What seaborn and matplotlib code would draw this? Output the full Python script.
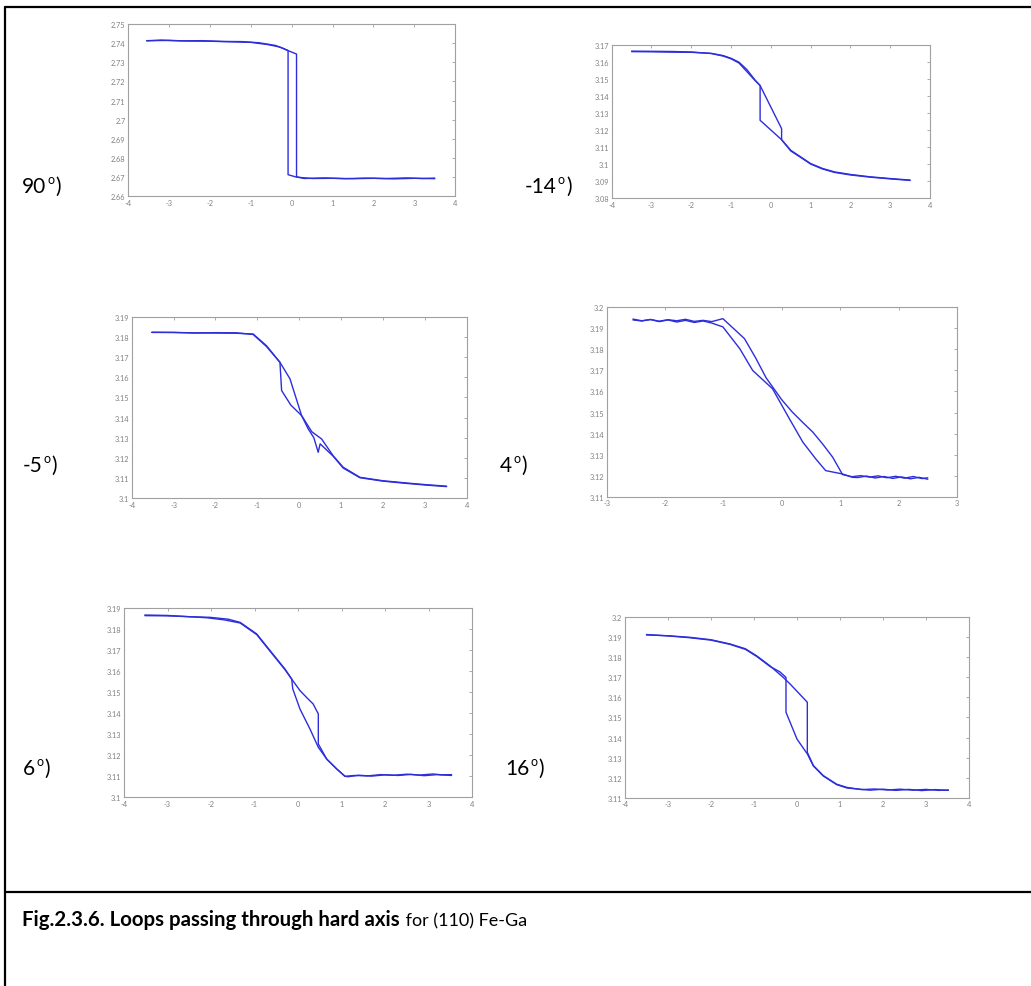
import matplotlib
matplotlib.use("Agg")
import matplotlib.pyplot as plt
from matplotlib.lines import Line2D
from matplotlib.ticker import FuncFormatter
import seaborn as sns
import pandas as pd

# ---------------- data ----------------
# Panel 90 deg
p1_b1_x = [-3.55, -3.0, -2.5, -2.0, -1.5, -1.0, -0.6, -0.3, -0.09, 0.117, 0.117, 0.3, 0.8, 1.3, 1.8, 2.3, 2.8, 3.2, 3.5]
p1_b1_y = [2.7413, 2.7414, 2.7411, 2.7410, 2.7407, 2.7404, 2.7393, 2.7380, 2.7361, 2.7343, 2.6702, 2.6693, 2.6696, 2.6692, 2.6695, 2.6693, 2.6696, 2.6693, 2.6695]
p1_b2_x = [3.5, 3.0, 2.5, 2.0, 1.5, 1.0, 0.5, 0.117, -0.09, -0.09, -0.2, -0.4, -0.8, -1.2, -1.7, -2.2, -2.7, -3.2, -3.55]
p1_b2_y = [2.6692, 2.6694, 2.6691, 2.6694, 2.6692, 2.6694, 2.6693, 2.6700, 2.6713, 2.7361, 2.7372, 2.7388, 2.7402, 2.7408, 2.7409, 2.7413, 2.7412, 2.7416, 2.7412]

# Panel -14 deg
p2_b1_x = [-3.5, -3.0, -2.5, -2.0, -1.5, -1.2, -1.0, -0.8, -0.6, -0.4, -0.27, 0.27, 0.27, 0.5, 0.75, 1.0, 1.3, 1.6, 2.0, 2.5, 3.0, 3.5]
p2_b1_y = [3.1661, 3.1660, 3.1658, 3.1657, 3.1651, 3.1638, 3.1622, 3.1599, 3.1555, 3.1495, 3.1462, 3.1209, 3.1144, 3.1082, 3.1043, 3.1004, 3.0975, 3.0955, 3.0940, 3.0926, 3.0916, 3.0907]
p2_b2_x = [3.5, 3.0, 2.5, 2.0, 1.6, 1.3, 1.0, 0.75, 0.5, 0.27, -0.27, -0.27, -0.4, -0.6, -0.8, -1.0, -1.2, -1.5, -2.0, -2.5, -3.0, -3.5]
p2_b2_y = [3.0905, 3.0914, 3.0924, 3.0937, 3.0952, 3.0972, 3.1001, 3.1040, 3.1078, 3.1144, 3.1258, 3.1462, 3.1492, 3.1543, 3.1594, 3.1619, 3.1635, 3.1650, 3.1659, 3.1662, 3.1663, 3.1664]

# Panel -5 deg
p3_b1_x = [-3.52, -3.0, -2.5, -2.0, -1.5, -1.1, -0.78, -0.46, -0.22, 0.057, 0.3, 0.535, 0.81, 1.05, 1.45, 2.0, 2.56, 3.0, 3.52]
p3_b1_y = [3.1823, 3.1822, 3.1820, 3.1819, 3.1818, 3.1814, 3.1756, 3.1674, 3.1592, 3.1410, 3.1330, 3.1294, 3.1211, 3.1154, 3.1104, 3.1087, 3.1076, 3.1068, 3.1060]
p3_b2_x = [3.52, 3.0, 2.5, 2.0, 1.45, 1.05, 0.81, 0.5, 0.454, 0.35, 0.215, 0.057, -0.2, -0.42, -0.46, -0.78, -1.1, -1.5, -2.0, -2.5, -3.0, -3.52]
p3_b2_y = [3.1058, 3.1066, 3.1075, 3.1085, 3.1102, 3.1150, 3.1209, 3.1270, 3.1228, 3.1300, 3.1344, 3.1410, 3.1462, 3.1534, 3.1674, 3.1752, 3.1812, 3.1820, 3.1821, 3.1819, 3.1822, 3.1822]

# Panel 4 deg
p4_b1_x = [-2.55, -2.4, -2.25, -2.1, -1.95, -1.8, -1.65, -1.5, -1.35, -1.2, -1.01, -0.85, -0.64, -0.45, -0.27, 0.0, 0.18, 0.35, 0.53, 0.7, 0.87, 1.04, 1.2, 1.35, 1.5, 1.65, 1.8, 1.95, 2.1, 2.25, 2.4, 2.5]
p4_b1_y = [3.1940, 3.1935, 3.1942, 3.1934, 3.1941, 3.1936, 3.1943, 3.1933, 3.1938, 3.1932, 3.1946, 3.1905, 3.1851, 3.1760, 3.1665, 3.1560, 3.1502, 3.1455, 3.1407, 3.1350, 3.1288, 3.1205, 3.1195, 3.1200, 3.1193, 3.1199, 3.1190, 3.1197, 3.1188, 3.1196, 3.1186, 3.1190]
p4_b2_x = [2.5, 2.35, 2.2, 2.05, 1.9, 1.75, 1.6, 1.45, 1.3, 1.21, 1.04, 0.75, 0.58, 0.36, 0.13, -0.16, -0.5, -0.72, -1.01, -1.2, -1.35, -1.5, -1.65, -1.8, -1.95, -2.1, -2.25, -2.4, -2.55]
p4_b2_y = [3.1183, 3.1192, 3.1185, 3.1194, 3.1187, 3.1196, 3.1189, 3.1198, 3.1191, 3.1192, 3.1208, 3.1224, 3.1280, 3.1359, 3.1470, 3.1613, 3.1700, 3.1803, 3.1907, 3.1925, 3.1935, 3.1928, 3.1938, 3.1930, 3.1940, 3.1932, 3.1942, 3.1936, 3.1944]

# Panel 6 deg
p5_b1_x = [-3.52, -3.0, -2.5, -2.02, -1.6, -1.33, -0.95, -0.64, -0.30, -0.145, 0.046, 0.2, 0.35, 0.467, 0.467, 0.66, 0.89, 1.08, 1.3, 1.6, 1.9, 2.2, 2.5, 2.8, 3.1, 3.3, 3.53]
p5_b1_y = [3.1865, 3.1864, 3.1860, 3.1857, 3.1848, 3.1833, 3.1778, 3.1698, 3.1611, 3.1563, 3.1508, 3.1475, 3.1444, 3.1397, 3.1254, 3.1182, 3.1135, 3.1100, 3.1104, 3.1102, 3.1108, 3.1105, 3.1110, 3.1106, 3.1111, 3.1107, 3.1108]
p5_b2_x = [3.53, 3.2, 2.9, 2.6, 2.3, 2.0, 1.7, 1.4, 1.15, 1.08, 0.89, 0.66, 0.467, 0.276, 0.046, -0.12, -0.145, -0.30, -0.64, -0.95, -1.33, -1.7, -2.1, -2.5, -3.0, -3.52]
p5_b2_y = [3.1104, 3.1108, 3.1103, 3.1109, 3.1104, 3.1107, 3.1101, 3.1105, 3.1098, 3.1100, 3.1135, 3.1182, 3.1238, 3.1325, 3.1420, 3.1516, 3.1563, 3.1608, 3.1695, 3.1775, 3.1830, 3.1845, 3.1855, 3.1860, 3.1866, 3.1868]

# Panel 16 deg
p6_b1_x = [-3.5, -3.0, -2.49, -2.0, -1.56, -1.2, -0.94, -0.63, -0.32, -0.16, 0.24, 0.24, 0.38, 0.61, 0.92, 1.16, 1.5, 1.8, 2.1, 2.4, 2.7, 3.0, 3.3, 3.52]
p6_b1_y = [3.1912, 3.1908, 3.1900, 3.1888, 3.1867, 3.1843, 3.1808, 3.1758, 3.1700, 3.1667, 3.1576, 3.1326, 3.1260, 3.1210, 3.1167, 3.1151, 3.1140, 3.1143, 3.1138, 3.1142, 3.1137, 3.1141, 3.1136, 3.1138]
p6_b2_x = [3.52, 3.2, 2.9, 2.6, 2.3, 2.0, 1.7, 1.4, 1.16, 0.92, 0.61, 0.38, 0.24, 0.0, -0.256, -0.256, -0.4, -0.63, -0.94, -1.2, -1.56, -2.0, -2.49, -3.0, -3.5]
p6_b2_y = [3.1136, 3.1140, 3.1135, 3.1141, 3.1136, 3.1142, 3.1137, 3.1143, 3.1148, 3.1165, 3.1208, 3.1258, 3.1318, 3.1392, 3.1526, 3.1700, 3.1728, 3.1755, 3.1805, 3.1840, 3.1865, 3.1886, 3.1898, 3.1907, 3.1914]

angle_labels = ["90", "-14", "-5", "4", "6", "16"]
p1_yticks = [2.66, 2.67, 2.68, 2.69, 2.70, 2.71, 2.72, 2.73, 2.74, 2.75]
p2_yticks = [3.08, 3.09, 3.10, 3.11, 3.12, 3.13, 3.14, 3.15, 3.16, 3.17]
p3_yticks = [3.10, 3.11, 3.12, 3.13, 3.14, 3.15, 3.16, 3.17, 3.18, 3.19]
p4_yticks = [3.11, 3.12, 3.13, 3.14, 3.15, 3.16, 3.17, 3.18, 3.19, 3.20]
p5_yticks = [3.10, 3.11, 3.12, 3.13, 3.14, 3.15, 3.16, 3.17, 3.18, 3.19]
p6_yticks = [3.11, 3.12, 3.13, 3.14, 3.15, 3.16, 3.17, 3.18, 3.19, 3.20]
xticks_wide = [-4, -3, -2, -1, 0, 1, 2, 3, 4]
xticks_narrow = [-3, -2, -1, 0, 1, 2, 3]
caption_bold = "Fig.2.3.6. Loops passing through hard axis"
caption_rest = " for (110) Fe-Ga"

# ---------------- style ----------------
sns.set_style("white")
plt.rcParams["font.family"] = ["Lato", "DejaVu Sans"]

W, H = 1031, 987
fig = plt.figure(figsize=(W / 100, H / 100), dpi=100)
fig.patch.set_facecolor("white")

LINE_COLOR = "#2d2ddc"

panels = [
    dict(b1=(p1_b1_x, p1_b1_y), b2=(p1_b2_x, p1_b2_y), box=(128.3, 455.2, 25.0, 197.3), yt=p1_yticks, xt=xticks_wide),
    dict(b1=(p2_b1_x, p2_b1_y), b2=(p2_b2_x, p2_b2_y), box=(611.7, 930.0, 46.0, 199.3), yt=p2_yticks, xt=xticks_wide),
    dict(b1=(p3_b1_x, p3_b1_y), b2=(p3_b2_x, p3_b2_y), box=(131.7, 466.7, 317.7, 499.3), yt=p3_yticks, xt=xticks_wide),
    dict(b1=(p4_b1_x, p4_b1_y), b2=(p4_b2_x, p4_b2_y), box=(606.7, 957.0, 308.3, 497.7), yt=p4_yticks, xt=xticks_narrow),
    dict(b1=(p5_b1_x, p5_b1_y), b2=(p5_b2_x, p5_b2_y), box=(124.0, 472.0, 609.3, 798.3), yt=p5_yticks, xt=xticks_wide),
    dict(b1=(p6_b1_x, p6_b1_y), b2=(p6_b2_x, p6_b2_y), box=(625.0, 969.0, 618.3, 798.6), yt=p6_yticks, xt=xticks_wide),
]

fmt = FuncFormatter(lambda v, p: "%g" % round(v, 4))

for pn in panels:
    l, r, t, b = pn["box"]
    ax = fig.add_axes([l / W, 1 - b / H, (r - l) / W, (b - t) / H])
    rows = []
    for name in ("b1", "b2"):
        xs, ys = pn[name]
        for i, (xv, yv) in enumerate(zip(xs, ys)):
            rows.append({"H": xv, "L": yv, "branch": name, "i": i})
    df = pd.DataFrame(rows)
    sns.lineplot(data=df, x="H", y="L", units="branch", estimator=None, sort=False,
                 color=LINE_COLOR, lw=1.0, ax=ax)
    ax.set_xlim(pn["xt"][0], pn["xt"][-1])
    ax.set_ylim(pn["yt"][0], pn["yt"][-1])
    ax.set_xticks(pn["xt"])
    ax.set_yticks(pn["yt"])
    ax.xaxis.set_major_formatter(fmt)
    ax.yaxis.set_major_formatter(fmt)
    ax.set_xlabel("")
    ax.set_ylabel("")
    ax.tick_params(direction="in", length=2.5, width=0.5, colors="#8a8a8a",
                   labelsize=5.3, labelcolor="#808080", top=True, right=True, pad=2)
    for s in ax.spines.values():
        s.set_color("#a0a0a0")
        s.set_linewidth(0.8)

# ---------------- page frame ----------------
def hline(x0, x1, y, lw=1.6):
    fig.add_artist(Line2D([x0 / W, x1 / W], [1 - y / H, 1 - y / H], transform=fig.transFigure,
                          color="black", lw=lw))

def vline(x, y0, y1, lw=1.6):
    fig.add_artist(Line2D([x / W, x / W], [1 - y0 / H, 1 - y1 / H], transform=fig.transFigure,
                          color="black", lw=lw))

hline(5, 1031, 8)
hline(5, 1031, 893)
vline(5, 8, 987)

# ---------------- texts ----------------
fig.canvas.draw()
renderer = fig.canvas.get_renderer()

def place_pieces(x_px, base_px, pieces):
    x = x_px
    for txt, size, weight, dy in pieces:
        t = fig.text(x / W, 1 - (base_px - dy) / H, txt, fontsize=size, fontweight=weight,
                     ha="left", va="baseline", color="black")
        ext = t.get_window_extent(renderer)
        x = ext.x1 + 1

label_pos = [(22, 193), (525, 193), (23, 472), (500, 472), (23, 775), (505, 775)]
for lab, (lx, ly) in zip(angle_labels, label_pos):
    place_pieces(lx, ly, [(lab, 15, "normal", 0), ("o", 9, "normal", 9), (")", 15, "normal", 0)])

place_pieces(22, 926, [(caption_bold, 14.7, "bold", 0), (caption_rest, 13, "normal", 0)])

fig.savefig("out.png", dpi=100, facecolor="white")
